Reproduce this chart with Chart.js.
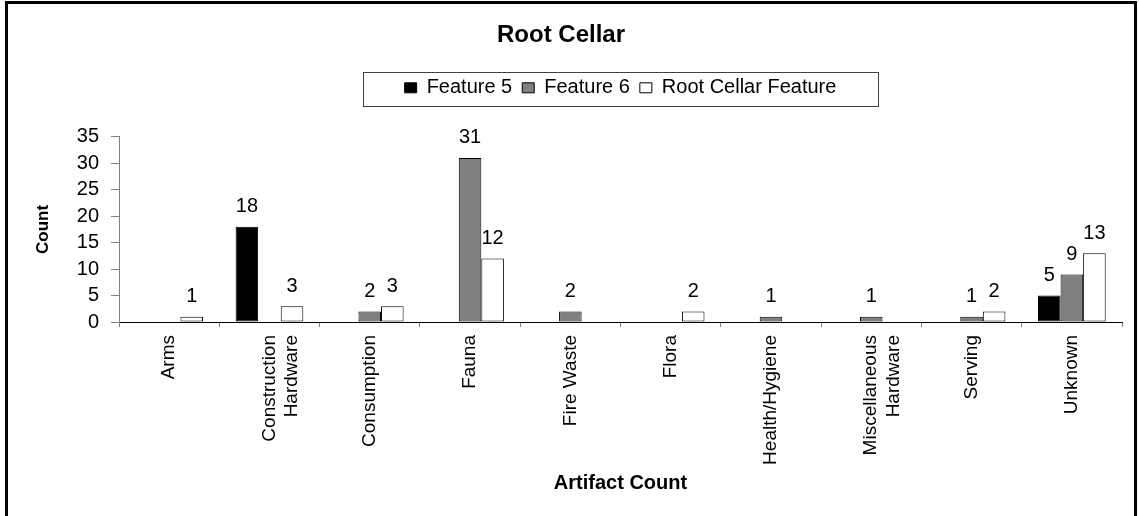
<!DOCTYPE html>
<html>
<head>
<meta charset="utf-8">
<script src="https://cdn.jsdelivr.net/npm/chart.js@4.4.1/dist/chart.umd.min.js"></script>
<style>
  html, body { margin: 0; padding: 0; background: #ffffff; }
  #wrap { width: 1139px; height: 516px; position: relative; }
  canvas { display: block; }
</style>
</head>
<body>
<div id="wrap"><canvas id="c" width="1139" height="516"></canvas></div>
<script>
// ---- data ----
const categories = ['Arms', ['Construction', 'Hardware'], 'Consumption', 'Fauna', 'Fire Waste', 'Flora',
  'Health/Hygiene', ['Miscellaneous', 'Hardware'], 'Serving', 'Unknown'];
const seriesNames = ['Feature 5', 'Feature 6', 'Root Cellar Feature'];
const feature5 = [0, 18, 0, 0, 0, 0, 0, 0, 0, 5];
const feature6 = [0, 0, 2, 31, 2, 0, 1, 1, 1, 9];
const rootCellar = [1, 3, 3, 12, 0, 2, 0, 0, 2, 13];
const yTicks = [0, 5, 10, 15, 20, 25, 30, 35];
const chartTitle = 'Root Cellar';
const xTitle = 'Artifact Count';
const yTitle = 'Count';

const FONT = "'Liberation Sans', Arial, Helvetica, sans-serif";
Chart.defaults.font.family = FONT;
Chart.defaults.color = '#000';

// outer frame
const framePlugin = {
  id: 'frame',
  afterDraw(chart) {
    const ctx = chart.ctx;
    ctx.save();
    ctx.strokeStyle = '#000';
    ctx.lineWidth = 3;
    ctx.beginPath();
    ctx.moveTo(6.5, 530);
    ctx.lineTo(6.5, 2.5);
    ctx.lineTo(1135.5, 2.5);
    ctx.lineTo(1135.5, 530);
    ctx.stroke();
    ctx.restore();
  }
};

// extra gap under legend + box around legend
const legendBox = {
  id: 'legendBox',
  beforeLayout(chart) {
    const lg = chart.legend;
    if (lg && !lg.__patched) {
      const orig = lg.fit;
      lg.fit = function () { orig.call(this); this.height += 29; };
      lg.__patched = true;
    }
  },
  afterDraw(chart) {
    const lg = chart.legend;
    if (!lg || !lg.legendHitBoxes || !lg.legendHitBoxes.length) return;
    const hb = lg.legendHitBoxes;
    let minL = Infinity, maxR = -Infinity, cy = 0;
    hb.forEach(h => { minL = Math.min(minL, h.left); maxR = Math.max(maxR, h.left + h.width); cy = h.top + h.height / 2; });
    const cx = (minL + maxR) / 2;
    const w = Math.max(maxR - minL + 24, 515);
    const ctx = chart.ctx;
    ctx.save();
    ctx.strokeStyle = '#404040';
    ctx.lineWidth = 1;
    ctx.strokeRect(Math.round(cx - w / 2) + 0.5, Math.round(cy - 16) + 0.5, Math.round(w), 34);
    ctx.restore();
  }
};

// value labels above bars
const valueLabels = {
  id: 'valueLabels',
  afterDatasetsDraw(chart) {
    const ctx = chart.ctx;
    ctx.save();
    ctx.font = '20px ' + FONT;
    ctx.fillStyle = '#000';
    ctx.textAlign = 'center';
    ctx.textBaseline = 'middle';
    chart.data.datasets.forEach((ds, di) => {
      const meta = chart.getDatasetMeta(di);
      meta.data.forEach((bar, i) => {
        const v = ds.data[i];
        if (v) ctx.fillText(String(v), bar.x, bar.y - 20);
      });
    });
    ctx.restore();
  }
};

new Chart(document.getElementById('c'), {
  type: 'bar',
  data: {
    labels: categories,
    datasets: [
      { label: seriesNames[0], data: feature5, backgroundColor: '#000000', borderColor: '#000000', borderWidth: 1, borderSkipped: false },
      { label: seriesNames[1], data: feature6, backgroundColor: '#808080', borderColor: '#000000', borderWidth: 1, borderSkipped: false },
      { label: seriesNames[2], data: rootCellar, backgroundColor: '#ffffff', borderColor: '#000000', borderWidth: 1, borderSkipped: false }
    ]
  },
  options: {
    responsive: false,
    animation: false,
    devicePixelRatio: 1,
    categoryPercentage: 0.675,
    barPercentage: 1,
    layout: { padding: { left: 0, right: 17, top: 0, bottom: 0 } },
    plugins: {
      title: {
        display: true, text: chartTitle, color: '#000',
        font: { size: 24, weight: 'bold', family: FONT },
        padding: { top: 21, bottom: 18 }
      },
      legend: {
        display: true, position: 'top', fullSize: false,
        labels: {
          boxWidth: 12, boxHeight: 10, padding: 10, color: '#000',
          font: { size: 20, family: FONT }
        }
      },
      tooltip: { enabled: false }
    },
    scales: {
      x: {
        grid: { display: true, drawOnChartArea: false, drawTicks: true, tickLength: 5, color: '#808080', offset: true },
        border: { display: true, color: '#000', width: 1 },
        ticks: { autoSkip: false, minRotation: 90, maxRotation: 90, padding: 8, color: '#000', font: { size: 19, family: FONT } },
        title: { display: true, text: xTitle, color: '#000', font: { size: 20, weight: 'bold', family: FONT }, padding: { top: 4, bottom: 21 } },
        afterFit(s) { s.height = 194; }
      },
      y: {
        min: yTicks[0], max: yTicks[yTicks.length - 1],
        afterBuildTicks(s) { s.ticks = yTicks.map(v => ({ value: v })); },
        grid: { display: true, drawOnChartArea: false, drawTicks: true, tickLength: 8, color: '#808080' },
        border: { display: true, color: '#808080', width: 1 },
        ticks: { autoSkip: false, stepSize: 5, padding: 12, color: '#000', font: { size: 20, family: FONT } },
        title: { display: true, text: yTitle, color: '#000', font: { size: 17, weight: 'bold', family: FONT }, padding: { top: 33, bottom: 0 } },
        afterFit(s) { s.width = 119; }
      }
    }
  },
  plugins: [framePlugin, legendBox, valueLabels]
});
</script>
</body>
</html>
